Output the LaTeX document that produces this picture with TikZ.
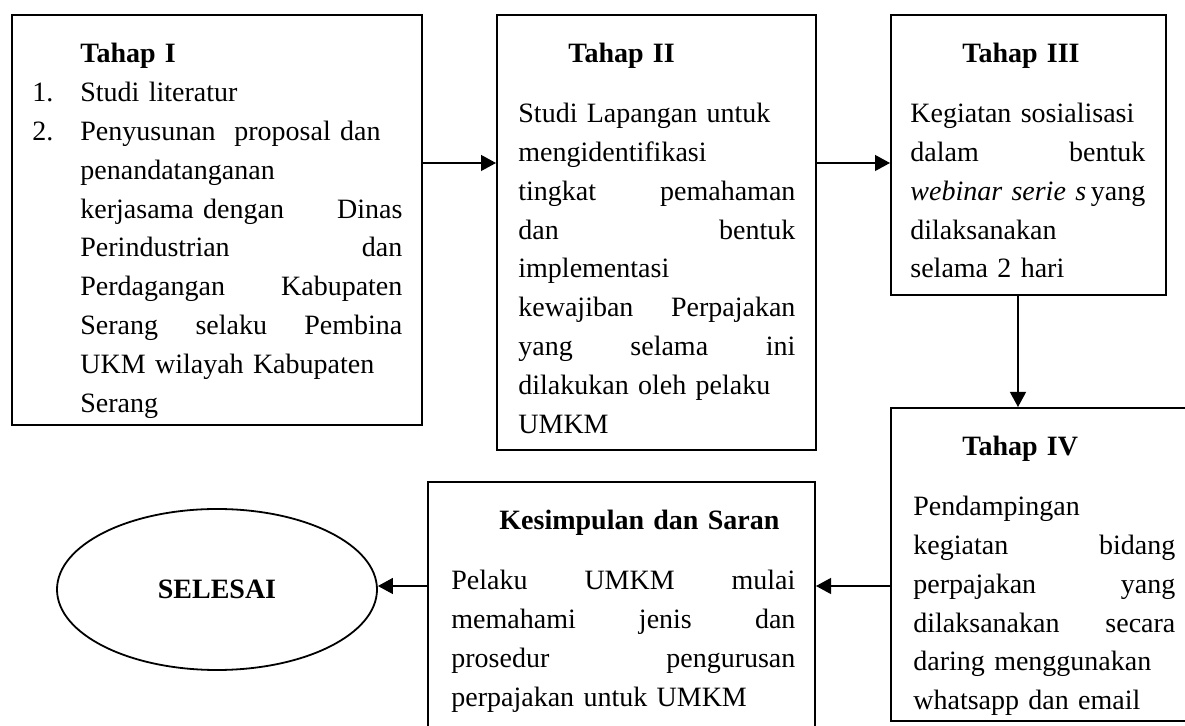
\documentclass[tikz,border=0pt]{standalone}
\usepackage{fontspec}
\setmainfont{Liberation Serif}
\usetikzlibrary{arrows.meta,shapes.geometric}

\begin{document}
\begin{tikzpicture}[x=0.5pt,y=-0.5pt,
  stagebox/.style={draw,line width=1pt,inner sep=0pt},
  stagetext/.style={anchor=base west,inner sep=0pt,align=left,
    font=\fontsize{14}{19.4}\selectfont},
  flow/.style={line width=0.6pt,-{Triangle[length=7.5pt,width=8pt]}}]
\useasboundingbox (0,0) rectangle (1185,726);
\clip (0,0) rectangle (1185,726);

% boxes
\node[stagebox,minimum width=205pt,minimum height=205pt] (tahap1) at (217,220) {};
\node[stagebox,minimum width=159.5pt,minimum height=217.5pt] (tahap2) at (656.5,232.5) {};
\node[stagebox,minimum width=137.5pt,minimum height=140pt] (tahap3) at (1028.5,155) {};
\node[stagebox,minimum width=154.5pt,minimum height=156.5pt] (tahap4) at (1045.5,564.5) {};
\node[stagebox,minimum width=193.5pt,minimum height=129pt] (simpulan) at (621.5,611) {};
\node[ellipse,draw,line width=0.9pt,inner sep=0pt,minimum width=160pt,minimum height=80.5pt,
  font=\fontsize{14}{16}\selectfont\bfseries] (selesai) at (217,589.5) {SELESAI};

% texts
\node[stagetext,text width=185pt] (tahap1txt) at (32,63) {%
  \hspace*{24pt}\textbf{Tahap I}\\
  \makebox[24pt][l]{1.}Studi literatur\\
  \makebox[24pt][l]{2.}Penyusunan\ \ proposal dan\\
  \hspace*{24pt}penandatanganan\\
  \hspace*{24pt}kerjasama dengan\hfill Dinas\\
  \hspace*{24pt}Perindustrian\hfill dan\\
  \hspace*{24pt}Perdagangan\hfill Kabupaten\\
  \hspace*{24pt}Serang\hfill selaku\hfill Pembina\\
  \hspace*{24pt}UKM wilayah Kabupaten\\
  \hspace*{24pt}Serang};
\node[stagetext,text width=138.5pt] (tahap2txt) at (518,63) {%
  \hspace*{25pt}\textbf{Tahap II}\\[10.5pt]
  Studi Lapangan untuk\\
  mengidentifikasi\\
  tingkat\hfill pemahaman\\
  dan\hfill bentuk\\
  implementasi\\
  kewajiban\hfill Perpajakan\\
  yang\hfill selama\hfill ini\\
  dilakukan oleh pelaku\\
  UMKM};
\node[stagetext,text width=117.5pt] (tahap3txt) at (910,63) {%
  \hspace*{26pt}\textbf{Tahap III}\\[10.5pt]
  Kegiatan sosialisasi\\
  dalam\hfill bentuk\\
  \textit{webinar serie s}\hfill yang\\
  dilaksanakan\\
  selama 2 hari};
\node[stagetext,text width=131pt] (tahap4txt) at (913,456) {%
  \hspace*{24.5pt}\textbf{Tahap IV}\\[10.5pt]
  Pendampingan\\
  kegiatan\hfill bidang\\
  perpajakan\hfill yang\\
  dilaksanakan\hfill secara\\
  daring menggunakan\\
  whatsapp dan email};
\node[stagetext,text width=172pt] (simpulantxt) at (451,530) {%
  \hspace*{24pt}\textbf{Kesimpulan dan Saran}\\[10.5pt]
  Pelaku\hfill UMKM\hfill mulai\\
  memahami\hfill jenis\hfill dan\\
  prosedur\hfill pengurusan\\
  perpajakan untuk UMKM};

% connectors
\coordinate (row1) at (0,163);
\coordinate (row2) at (0,586);
\coordinate (col3) at (1018,0);
\draw[flow] (tahap1.east |- row1) -- (tahap2.west |- row1);
\draw[flow] (tahap2.east |- row1) -- (tahap3.west |- row1);
\draw[flow] (tahap3.south -| col3) -- (tahap4.north -| col3);
\draw[flow] (tahap4.west |- row2) -- (simpulan.east |- row2);
\draw[flow] (simpulan.west |- row2) -- (selesai.east |- row2);
\end{tikzpicture}
\end{document}
